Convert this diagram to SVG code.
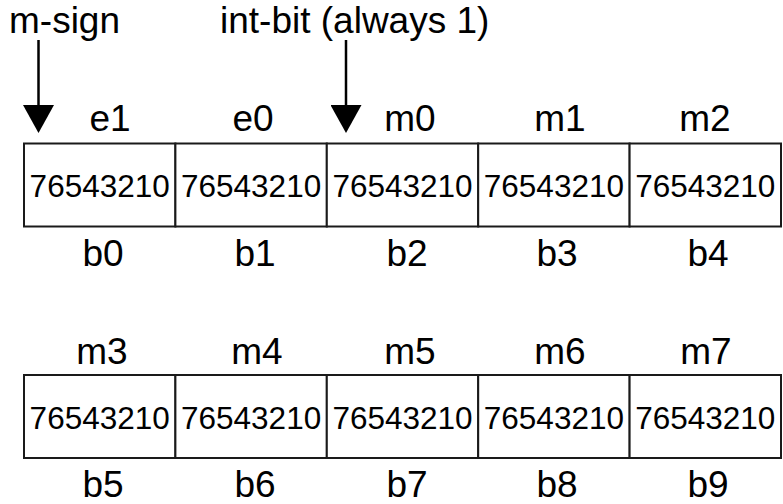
<svg xmlns="http://www.w3.org/2000/svg" width="783" height="504" viewBox="0 0 783 504">
<style>
  .cell { fill: #ffffff; stroke: #1a1a1a; stroke-width: 2; }
  .bits { font-family: "Liberation Sans", Arial, sans-serif; font-size: 31.5px; fill: #000; text-anchor: middle; }
  .lbl { font-family: "Liberation Sans", Arial, sans-serif; font-size: 37px; fill: #000; text-anchor: middle; }
  .ttl { font-family: "Liberation Sans", Arial, sans-serif; font-size: 37px; fill: #000; }
  .arrow { stroke: #000; stroke-width: 2.5; fill: none; marker-end: url(#head); }
</style>
<defs>
  <marker id="head" viewBox="0 0 28 31" refX="15" refY="15.5" markerWidth="28" markerHeight="31" markerUnits="userSpaceOnUse" orient="auto">
    <path d="M0,0 L28,15.5 L0,31 Z" fill="#000"/>
  </marker>
</defs>
<rect width="783" height="504" fill="#ffffff"/>

<g id="title-msign"><text class="ttl" x="9" y="33">m-sign</text></g>
<g id="title-intbit"><text class="ttl" x="220" y="33">int-bit (always 1)</text></g>

<g id="connectors">
  <path class="arrow" d="M38.5,40 L38.5,120"/>
  <path class="arrow" d="M346,40 L346,120"/>
</g>

<g id="byte-b0">
  <rect class="cell" x="24" y="143.5" width="151.4" height="83"/>
  <text class="bits" x="99.7" y="197">76543210</text>
  <text class="lbl" x="110" y="131">e1</text>
  <text class="lbl" x="103" y="266">b0</text>
</g>
<g id="byte-b1">
  <rect class="cell" x="175.4" y="143.5" width="151.4" height="83"/>
  <text class="bits" x="251.1" y="197">76543210</text>
  <text class="lbl" x="253" y="131">e0</text>
  <text class="lbl" x="255" y="266">b1</text>
</g>
<g id="byte-b2">
  <rect class="cell" x="326.8" y="143.5" width="151.4" height="83"/>
  <text class="bits" x="402.5" y="197">76543210</text>
  <text class="lbl" x="410" y="131">m0</text>
  <text class="lbl" x="407" y="266">b2</text>
</g>
<g id="byte-b3">
  <rect class="cell" x="478.2" y="143.5" width="151.4" height="83"/>
  <text class="bits" x="553.9" y="197">76543210</text>
  <text class="lbl" x="560" y="131">m1</text>
  <text class="lbl" x="557" y="266">b3</text>
</g>
<g id="byte-b4">
  <rect class="cell" x="629.6" y="143.5" width="151.4" height="83"/>
  <text class="bits" x="705.3" y="197">76543210</text>
  <text class="lbl" x="705" y="131">m2</text>
  <text class="lbl" x="708" y="266">b4</text>
</g>

<g id="byte-b5">
  <rect class="cell" x="24" y="375" width="151.4" height="83"/>
  <text class="bits" x="99.7" y="428.5">76543210</text>
  <text class="lbl" x="102" y="364">m3</text>
  <text class="lbl" x="103" y="497">b5</text>
</g>
<g id="byte-b6">
  <rect class="cell" x="175.4" y="375" width="151.4" height="83"/>
  <text class="bits" x="251.1" y="428.5">76543210</text>
  <text class="lbl" x="257" y="364">m4</text>
  <text class="lbl" x="255" y="497">b6</text>
</g>
<g id="byte-b7">
  <rect class="cell" x="326.8" y="375" width="151.4" height="83"/>
  <text class="bits" x="402.5" y="428.5">76543210</text>
  <text class="lbl" x="410" y="364">m5</text>
  <text class="lbl" x="407" y="497">b7</text>
</g>
<g id="byte-b8">
  <rect class="cell" x="478.2" y="375" width="151.4" height="83"/>
  <text class="bits" x="553.9" y="428.5">76543210</text>
  <text class="lbl" x="560" y="364">m6</text>
  <text class="lbl" x="557" y="497">b8</text>
</g>
<g id="byte-b9">
  <rect class="cell" x="629.6" y="375" width="151.4" height="83"/>
  <text class="bits" x="705.3" y="428.5">76543210</text>
  <text class="lbl" x="706" y="364">m7</text>
  <text class="lbl" x="708" y="497">b9</text>
</g>
</svg>
